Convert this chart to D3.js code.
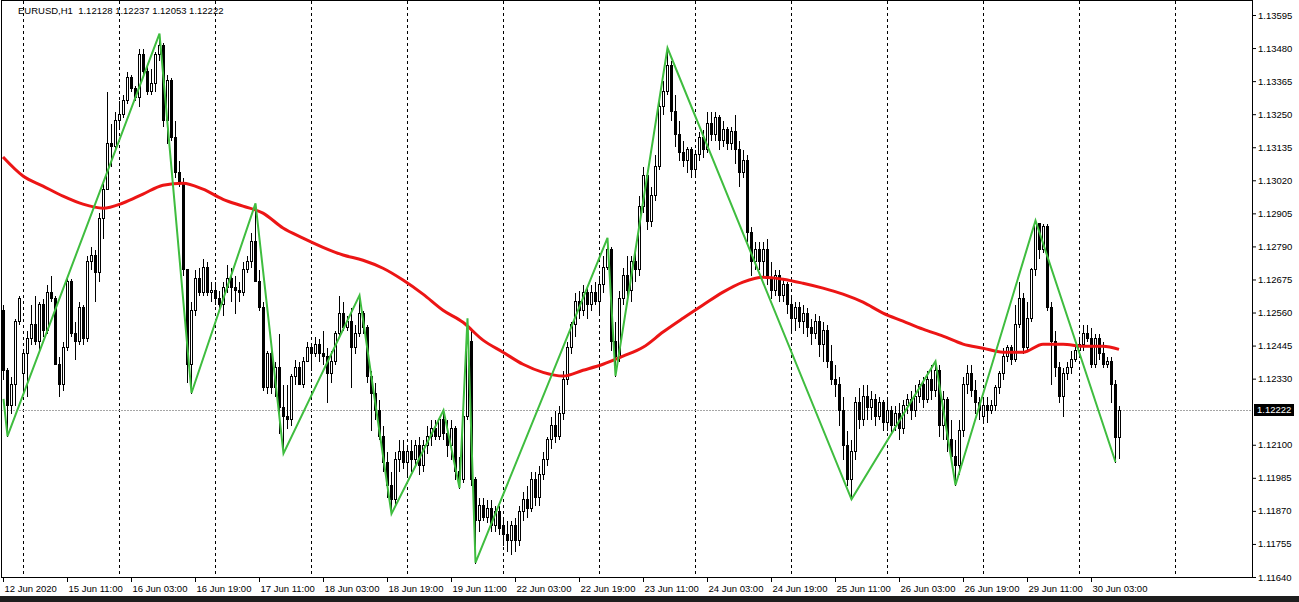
<!DOCTYPE html>
<html><head><meta charset="utf-8">
<script src="https://cdn.jsdelivr.net/npm/d3@7"></script>
<style>
body{margin:0;background:#fff;overflow:hidden}
</style>
</head><body><svg id="c" width="1299" height="602"></svg>
<script>
const titleText = "EURUSD,H1  1.12128 1.12237 1.12053 1.12222";
const lastPrice = 1.12222;

const open = [1.1257,1.1236,1.1224,1.1231,1.1253,1.1235,1.1242,1.1247,1.1252,1.1246,
1.1259,1.1250,1.1263,1.1261,1.1238,1.1231,1.1244,1.1267,1.1249,1.1246,
1.1258,1.1247,1.1274,1.1276,1.1270,1.1289,1.1299,1.1315,1.1314,1.1323,
1.1325,1.1330,1.1338,1.1334,1.1331,1.1346,1.1340,1.1333,1.1336,1.1346,
1.1349,1.1323,1.1337,1.1317,1.1305,1.1301,1.1271,1.1238,1.1257,1.1268,
1.1263,1.1272,1.1263,1.1264,1.1261,1.1259,1.1265,1.1268,1.1265,1.1264,
1.1263,1.1271,1.1274,1.1281,1.1267,1.1258,1.1230,1.1242,1.1230,1.1237,
1.1223,1.1220,1.1219,1.1234,1.1237,1.1231,1.1239,1.1244,1.1242,1.1245,
1.1242,1.1241,1.1235,1.1239,1.1249,1.1256,1.1251,1.1253,1.1244,1.1249,
1.1256,1.1251,1.1234,1.1228,1.1222,1.1213,1.1204,1.1196,1.1191,1.1205,
1.1208,1.1204,1.1208,1.1205,1.1210,1.1203,1.1210,1.1213,1.1216,1.1213,
1.1219,1.1214,1.1210,1.1216,1.1201,1.1198,1.1220,1.1246,1.1198,1.1184,
1.1189,1.1185,1.1188,1.1182,1.1187,1.1182,1.1179,1.1177,1.1182,1.1177,
1.1187,1.1191,1.1188,1.1198,1.1192,1.1200,1.1205,1.1212,1.1217,1.1213,
1.1221,1.1233,1.1244,1.1252,1.1260,1.1257,1.1263,1.1259,1.1263,1.1260,
1.1266,1.1272,1.1278,1.1246,1.1241,1.1261,1.1269,1.1264,1.1274,1.1271,
1.1293,1.1304,1.1288,1.1297,1.1307,1.1328,1.1333,1.1342,1.1326,1.1318,
1.1312,1.1309,1.1313,1.1306,1.1311,1.1317,1.1313,1.1322,1.1318,1.1324,
1.1316,1.1320,1.1315,1.1319,1.1313,1.1305,1.1309,1.1284,1.1274,1.1278,
1.1274,1.1278,1.1268,1.1264,1.1269,1.1262,1.1266,1.1259,1.1254,1.1258,
1.1253,1.1256,1.1251,1.1249,1.1253,1.1245,1.1250,1.1239,1.1233,1.1231,
1.1222,1.1210,1.1198,1.1208,1.1225,1.1219,1.1227,1.1223,1.1226,1.1220,
1.1225,1.1218,1.1222,1.1217,1.1221,1.1216,1.1224,1.1226,1.1222,1.1227,
1.1231,1.1226,1.1233,1.1229,1.1236,1.1217,1.1226,1.1212,1.1206,1.1203,
1.1215,1.1231,1.1235,1.1229,1.1225,1.1220,1.1224,1.1222,1.1224,1.1230,
1.1235,1.1241,1.1244,1.1240,1.1252,1.1261,1.1244,1.1254,1.1271,1.1287,
1.1278,1.1286,1.1258,1.1246,1.1237,1.1227,1.1235,1.1237,1.1240,1.1243,
1.1245,1.1249,1.1247,1.1238,1.1247,1.1242,1.1238,1.1239,1.1231,1.12128];

const high = [1.1259,1.1237,1.1234,1.1254,1.1262,1.1243,1.1250,1.1259,1.1262,1.1260,
1.1261,1.1266,1.1269,1.1262,1.1241,1.1246,1.1269,1.1268,1.1253,1.1260,
1.1259,1.1276,1.1279,1.1278,1.1291,1.1301,1.1333,1.1322,1.1326,1.1330,
1.1332,1.1340,1.1339,1.1335,1.1348,1.1348,1.1342,1.1341,1.1347,1.1353,
1.1350,1.1339,1.1338,1.1323,1.1309,1.1303,1.1271,1.1260,1.1271,1.1272,
1.1275,1.1274,1.1267,1.1267,1.1264,1.1267,1.1273,1.1272,1.1269,1.1267,
1.1274,1.1276,1.1284,1.1294,1.1271,1.1260,1.1243,1.1245,1.1239,1.1249,
1.1231,1.1231,1.1235,1.1240,1.1239,1.1241,1.1246,1.1245,1.1248,1.1247,
1.1250,1.1244,1.1243,1.1250,1.1262,1.1260,1.1255,1.1258,1.1252,1.1262,
1.1257,1.1252,1.1236,1.1232,1.1226,1.1217,1.1208,1.1201,1.1208,1.1212,
1.1212,1.1210,1.1212,1.1212,1.1213,1.1212,1.1217,1.1219,1.1219,1.1220,
1.1222,1.1219,1.1219,1.1217,1.1206,1.1226,1.1254,1.1250,1.1199,1.1192,
1.1192,1.1191,1.1191,1.1189,1.1189,1.1185,1.1184,1.1184,1.1185,1.1189,
1.1194,1.1196,1.1201,1.1201,1.1203,1.1208,1.1213,1.1220,1.1222,1.1224,
1.1236,1.1246,1.1253,1.1263,1.1264,1.1266,1.1265,1.1266,1.1267,1.1269,
1.1276,1.1282,1.1279,1.1253,1.1264,1.1272,1.1276,1.1276,1.1279,1.1297,
1.1307,1.1306,1.1300,1.1311,1.1332,1.1337,1.1348,1.1344,1.1332,1.1323,
1.1316,1.1314,1.1314,1.1313,1.1319,1.1320,1.1326,1.1326,1.1326,1.1325,
1.1323,1.1321,1.1321,1.1325,1.1316,1.1313,1.1311,1.1286,1.1281,1.1281,
1.1281,1.1282,1.1274,1.1271,1.1271,1.1268,1.1267,1.1262,1.1260,1.1260,
1.1259,1.1258,1.1254,1.1256,1.1255,1.1253,1.1252,1.1245,1.1238,1.1234,
1.1227,1.1215,1.1212,1.1227,1.1230,1.1231,1.1231,1.1229,1.1228,1.1227,
1.1226,1.1226,1.1224,1.1224,1.1225,1.1226,1.1228,1.1229,1.1231,1.1233,
1.1234,1.1236,1.1238,1.1239,1.1238,1.1229,1.1227,1.1219,1.1212,1.1219,
1.1234,1.1238,1.1238,1.1233,1.1227,1.1227,1.1227,1.1226,1.1231,1.1236,
1.1244,1.1245,1.1245,1.1259,1.1267,1.1263,1.1260,1.1272,1.1288,1.1287,
1.1287,1.1287,1.1260,1.1250,1.1239,1.1237,1.1239,1.1243,1.1245,1.1247,
1.1252,1.1252,1.1251,1.1249,1.1249,1.1246,1.1241,1.1241,1.1233,1.12237];

const low = [1.1233,1.1213,1.1221,1.1224,1.1252,1.1228,1.1227,1.1245,1.1245,1.1243,
1.1248,1.1249,1.1260,1.1238,1.1227,1.1229,1.1243,1.1248,1.1240,1.1245,
1.1245,1.1246,1.1271,1.1260,1.1267,1.1282,1.1299,1.1307,1.1313,1.1320,
1.1324,1.1329,1.1333,1.1330,1.1328,1.1339,1.1332,1.1332,1.1333,1.1344,
1.1321,1.1315,1.1316,1.1303,1.1300,1.1269,1.1232,1.1228,1.1255,1.1262,
1.1262,1.1262,1.1260,1.1259,1.1257,1.1255,1.1263,1.1260,1.1256,1.1260,
1.1262,1.1270,1.1272,1.1267,1.1257,1.1229,1.1228,1.1228,1.1227,1.1214,
1.1207,1.1216,1.1217,1.1231,1.1231,1.1230,1.1239,1.1236,1.1241,1.1239,
1.1238,1.1225,1.1232,1.1238,1.1248,1.1250,1.1250,1.1230,1.1242,1.1248,
1.1249,1.1232,1.1215,1.1219,1.1212,1.1201,1.1192,1.1186,1.1189,1.1201,
1.1202,1.1199,1.1201,1.1203,1.1200,1.1201,1.1207,1.1210,1.1212,1.1212,
1.1212,1.1206,1.1205,1.1198,1.1195,1.1197,1.1219,1.1196,1.1169,1.1180,
1.1184,1.1183,1.1180,1.1180,1.1179,1.1175,1.1173,1.1172,1.1173,1.1175,
1.1184,1.1185,1.1187,1.1189,1.1189,1.1198,1.1203,1.1209,1.1211,1.1212,
1.1219,1.1231,1.1242,1.1248,1.1254,1.1255,1.1254,1.1257,1.1259,1.1256,
1.1263,1.1271,1.1243,1.1234,1.1239,1.1259,1.1260,1.1260,1.1267,1.1269,
1.1291,1.1285,1.1286,1.1295,1.1306,1.1325,1.1332,1.1323,1.1314,1.1309,
1.1307,1.1305,1.1303,1.1304,1.1309,1.1310,1.1312,1.1316,1.1316,1.1313,
1.1314,1.1313,1.1313,1.1308,1.1300,1.1303,1.1281,1.1269,1.1271,1.1271,
1.1269,1.1266,1.1261,1.1262,1.1260,1.1260,1.1256,1.1250,1.1250,1.1251,
1.1249,1.1248,1.1245,1.1247,1.1241,1.1239,1.1237,1.1231,1.1227,1.1217,
1.1205,1.1196,1.1191,1.1205,1.1216,1.1217,1.1219,1.1219,1.1217,1.1219,
1.1215,1.1215,1.1214,1.1215,1.1212,1.1214,1.1221,1.1219,1.1220,1.1225,
1.1223,1.1225,1.1226,1.1227,1.1213,1.1212,1.1208,1.1204,1.1196,1.1200,
1.1213,1.1228,1.1227,1.1221,1.1219,1.1218,1.1218,1.1221,1.1222,1.1228,
1.1233,1.1239,1.1238,1.1239,1.1251,1.1242,1.1243,1.1253,1.1269,1.1275,
1.1277,1.1257,1.1231,1.1234,1.1225,1.1220,1.1233,1.1235,1.1239,1.1241,
1.1243,1.1246,1.1237,1.1237,1.1240,1.1237,1.1237,1.1225,1.1204,1.12053];

const close = [1.1236,1.1224,1.1231,1.1253,1.1261,1.1242,1.1247,1.1252,1.1246,1.1259,
1.1250,1.1263,1.1261,1.1238,1.1231,1.1244,1.1267,1.1249,1.1246,1.1258,
1.1247,1.1274,1.1276,1.1270,1.1289,1.1299,1.1315,1.1314,1.1323,1.1325,
1.1330,1.1338,1.1334,1.1331,1.1346,1.1340,1.1333,1.1336,1.1346,1.1349,
1.1323,1.1337,1.1317,1.1305,1.1301,1.1271,1.1238,1.1257,1.1268,1.1263,
1.1272,1.1263,1.1264,1.1261,1.1259,1.1265,1.1268,1.1265,1.1264,1.1263,
1.1271,1.1274,1.1281,1.1267,1.1258,1.1230,1.1242,1.1230,1.1237,1.1223,
1.1220,1.1219,1.1234,1.1237,1.1231,1.1239,1.1244,1.1242,1.1245,1.1242,
1.1241,1.1235,1.1239,1.1249,1.1256,1.1251,1.1253,1.1244,1.1249,1.1256,
1.1251,1.1234,1.1228,1.1222,1.1213,1.1204,1.1196,1.1191,1.1205,1.1208,
1.1204,1.1208,1.1205,1.1210,1.1203,1.1210,1.1213,1.1216,1.1213,1.1219,
1.1214,1.1210,1.1216,1.1201,1.1198,1.1220,1.1246,1.1198,1.1184,1.1189,
1.1185,1.1188,1.1182,1.1187,1.1181,1.1179,1.1177,1.1182,1.1177,1.1187,
1.1191,1.1188,1.1198,1.1192,1.1200,1.1205,1.1212,1.1217,1.1213,1.1221,
1.1233,1.1244,1.1252,1.1260,1.1257,1.1263,1.1259,1.1263,1.1260,1.1266,
1.1272,1.1278,1.1246,1.1241,1.1261,1.1269,1.1264,1.1274,1.1271,1.1293,
1.1304,1.1288,1.1297,1.1307,1.1328,1.1333,1.1342,1.1326,1.1318,1.1312,
1.1309,1.1313,1.1306,1.1311,1.1317,1.1313,1.1322,1.1318,1.1324,1.1316,
1.1320,1.1315,1.1319,1.1313,1.1305,1.1309,1.1284,1.1274,1.1278,1.1274,
1.1278,1.1268,1.1264,1.1269,1.1262,1.1266,1.1259,1.1254,1.1258,1.1253,
1.1256,1.1251,1.1249,1.1253,1.1245,1.1250,1.1239,1.1233,1.1231,1.1222,
1.1210,1.1198,1.1208,1.1225,1.1219,1.1227,1.1223,1.1226,1.1220,1.1225,
1.1218,1.1222,1.1217,1.1221,1.1216,1.1224,1.1226,1.1222,1.1227,1.1231,
1.1226,1.1233,1.1229,1.1236,1.1217,1.1226,1.1212,1.1206,1.1203,1.1215,
1.1231,1.1235,1.1229,1.1225,1.1222,1.1224,1.1222,1.1224,1.1230,1.1235,
1.1241,1.1244,1.1240,1.1252,1.1261,1.1244,1.1254,1.1271,1.1287,1.1278,
1.1286,1.1258,1.1246,1.1237,1.1227,1.1235,1.1237,1.1240,1.1243,1.1245,
1.1249,1.1247,1.1238,1.1247,1.1242,1.1238,1.1239,1.1231,1.12128,1.12222];

// moving average (red), read at every 5th bar
const maBars = [0,5,10,15,20,25,30,35,40,45,50,55,60,65,70,75,80,85,90,95,100,105,110,115,120,125,130,135,140,145,150,155,160,165,170,175,180,185,190,195,200,205,210,215,220,225,230,235,240,245,250,255,260,265,270,275,279];
const maValues = [1.13101,1.13035,1.13000,1.12965,1.12937,1.12923,1.12941,1.12972,1.13003,1.13010,1.12989,1.12954,1.12930,1.12906,1.12854,1.12819,1.12787,1.12760,1.12742,1.12714,1.12673,1.12624,1.12568,1.12526,1.12464,1.12422,1.12380,1.12352,1.12339,1.12359,1.12380,1.12408,1.12439,1.12492,1.12540,1.12586,1.12631,1.12666,1.12683,1.12676,1.12662,1.12645,1.12624,1.12596,1.12558,1.12530,1.12502,1.12478,1.12450,1.12436,1.12422,1.12422,1.12450,1.12450,1.12443,1.12443,1.12432];

// zigzag (green)
const zigzagBars = [0,1,39,47,63,70,89,97,110,114,116,118,151,153,166,212,233,238,258,278];
const zigzagPrices = [1.1226,1.1213,1.1353,1.1228,1.1294,1.1207,1.1262,1.1186,1.1222,1.1195,1.1254,1.1169,1.1282,1.1234,1.1348,1.1191,1.1239,1.1196,1.1288,1.1204];

const priceTicks = [1.13595,1.13480,1.13365,1.13250,1.13135,1.13020,1.12905,1.12790,1.12675,1.12560,1.12445,1.12330,1.12100,1.11985,1.11870,1.11755,1.11640];
const timeLabelBars = [0,16,32,48,64,80,96,112,128,144,160,176,192,208,224,240,256,272];
const timeLabels = ["12 Jun 2020","15 Jun 11:00","16 Jun 03:00","16 Jun 19:00","17 Jun 11:00","18 Jun 03:00","18 Jun 19:00","19 Jun 11:00","22 Jun 03:00","22 Jun 19:00","23 Jun 11:00","24 Jun 03:00","24 Jun 19:00","25 Jun 11:00","26 Jun 03:00","26 Jun 19:00","29 Jun 11:00","30 Jun 03:00"];
const dayStartBars = [5,29,53,77,101,125,149,173,197,221,245,269,293];

const W = 1299, H = 602;
const plotRight = 1252, plotBottom = 577;
const FONT = '"Liberation Sans", Arial, sans-serif';
const svg = d3.select("#c");

const x = d3.scaleLinear().domain([0, 279]).range([3, 1119]);
const y = d3.scaleLinear().domain([1.11640, 1.13595]).range([577, 15]);
const px = v => Math.round(v) + 0.5;

svg.append("rect").attr("x",0).attr("y",0).attr("width",W).attr("height",H).attr("fill","#fff");
svg.append("rect").attr("x",0).attr("y",596).attr("width",W).attr("height",6).attr("fill","#1e1e1e");

// day grid
svg.append("g").selectAll("line").data(dayStartBars).join("line")
  .attr("x1", d => px(x(d))).attr("x2", d => px(x(d)))
  .attr("y1", 1).attr("y2", plotBottom)
  .attr("stroke", "#000").attr("stroke-dasharray", "3,3")
  .attr("shape-rendering", "crispEdges");

// last price line
svg.append("line").attr("x1", 1).attr("x2", plotRight)
  .attr("y1", px(y(lastPrice))).attr("y2", px(y(lastPrice)))
  .attr("stroke", "#a6a6a6").attr("stroke-dasharray", "2,1")
  .attr("shape-rendering", "crispEdges");

// candles
const bars = d3.range(close.length);
const cg = svg.append("g").attr("shape-rendering", "crispEdges");
cg.selectAll("line").data(bars).join("line")
  .attr("x1", i => Math.round(x(i)) + 0.5).attr("x2", i => Math.round(x(i)) + 0.5)
  .attr("y1", i => Math.round(y(high[i])) + 0.5).attr("y2", i => Math.round(y(low[i])) + 0.5)
  .attr("stroke", "#000");
cg.selectAll("path").data(bars).join("path")
  .attr("d", i => {
    const cx = Math.round(x(i));
    const t = Math.round(y(Math.max(open[i], close[i])));
    const b = Math.round(y(Math.min(open[i], close[i])));
    return `M${cx - 1 + 0.5},${t + 0.5}h2v${b - t}h-2z`;
  })
  .attr("fill", i => close[i] >= open[i] ? "#fff" : "#000")
  .attr("stroke", "#000");

// moving average
svg.append("path").datum(maBars.map((b, k) => [b, maValues[k]]))
  .attr("d", d3.line().x(d => x(d[0])).y(d => y(d[1])).curve(d3.curveMonotoneX))
  .attr("fill", "none").attr("stroke", "#ec1515").attr("stroke-width", 3)
  .attr("stroke-linejoin", "round");

// zigzag
svg.append("path").datum(zigzagBars.map((b, k) => [b, zigzagPrices[k]]))
  .attr("d", d3.line().x(d => x(d[0]) + 0.5).y(d => y(d[1])))
  .attr("fill", "none").attr("stroke", "#3fbd3f").attr("stroke-width", 2);

// frame
svg.append("path")
  .attr("d", `M1.5,${plotBottom + 0.5}V0.5H${plotRight + 0.5}V${plotBottom + 0.5}H1.5`)
  .attr("fill", "none").attr("stroke", "#000").attr("shape-rendering", "crispEdges");

// right price axis
const yAxis = d3.axisRight(y).tickValues(priceTicks).tickSize(4).tickPadding(2)
  .tickFormat(d3.format(".5f"));
svg.append("g").attr("transform", `translate(${plotRight},0)`).call(yAxis)
  .call(g => g.select(".domain").remove())
  .call(g => g.attr("font-family", FONT).attr("font-size", 9.5));

// bottom time axis
const xAxis = d3.axisBottom(x).tickValues(timeLabelBars).tickSize(5).tickPadding(3)
  .tickFormat((d, i) => timeLabels[i]);
svg.append("g").attr("transform", `translate(0,${plotBottom})`).call(xAxis)
  .call(g => g.select(".domain").remove())
  .call(g => g.attr("font-family", FONT).attr("font-size", 9.5))
  .call(g => g.selectAll("text").attr("text-anchor", "start").attr("dx", 1));

// last price label
const ly = y(lastPrice);
svg.append("rect").attr("x", 1254).attr("y", Math.round(ly) - 6).attr("width", 40).attr("height", 12).attr("fill", "#000");
svg.append("text").attr("x", 1257).attr("y", ly).attr("dy", "0.35em")
  .attr("font-family", FONT).attr("font-size", 9.5).attr("fill", "#fff")
  .text(d3.format(".5f")(lastPrice));

// title
svg.append("text").attr("x", 18).attr("y", 14)
  .attr("font-family", FONT).attr("font-size", 9.5).attr("fill", "#000")
  .text(titleText).attr("xml:space", "preserve").style("white-space", "pre");
</script>
</body></html>
